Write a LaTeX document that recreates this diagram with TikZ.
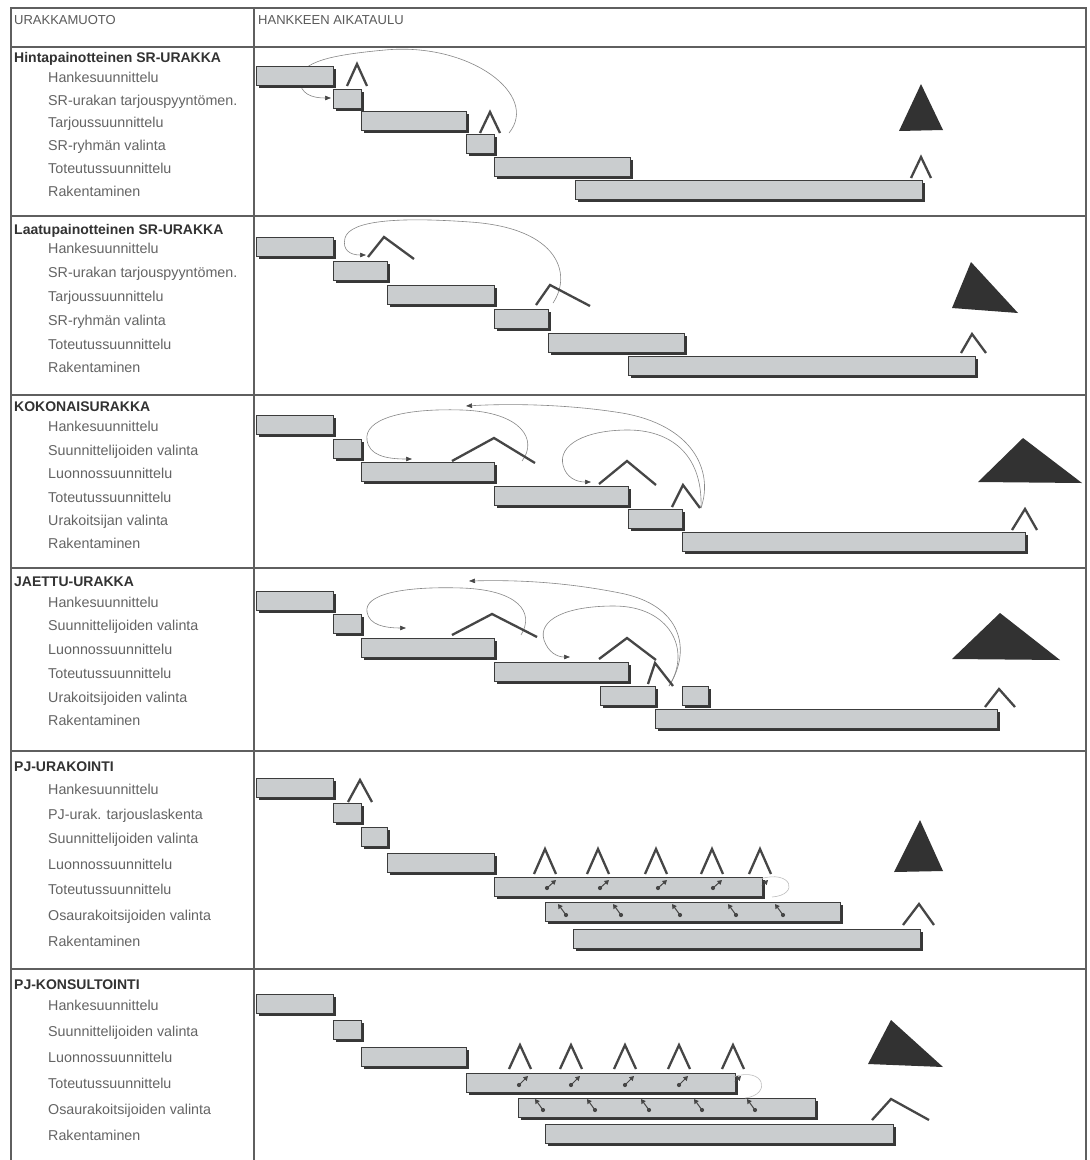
\documentclass[tikz,border=0pt]{standalone}
\usepackage{fontspec}
\setmainfont{Liberation Sans}
\usetikzlibrary{arrows.meta}

\definecolor{barfill}{RGB}{202,205,207}
\definecolor{barline}{RGB}{60,60,60}
\definecolor{barshade}{RGB}{55,55,55}
\definecolor{txtgray}{RGB}{100,100,100}
\definecolor{ttlgray}{RGB}{50,50,50}
\definecolor{hdrgray}{RGB}{90,90,90}
\definecolor{rulegray}{RGB}{95,95,95}
\definecolor{markgray}{RGB}{70,70,70}
\definecolor{trifill}{RGB}{50,50,50}
\definecolor{arcgray}{RGB}{135,135,135}
\definecolor{faintgray}{RGB}{190,190,190}

\tikzset{
  rule/.style={draw=rulegray, line width=1.1pt},
  txtbase/.style={anchor=west, inner sep=0pt, text height=10pt, text depth=2.8pt},
  hdr/.style={txtbase, text=hdrgray, font=\fontsize{13}{15}\selectfont},
  ttl/.style={txtbase, text=ttlgray, font=\fontsize{14}{16}\selectfont\bfseries},
  lbl/.style={txtbase, text=txtgray, font=\fontsize{14.3}{16}\selectfont},
  gbar/.style={draw=barline, line width=0.7pt, fill=barfill, minimum height=19.5pt,
               inner sep=0pt, outer sep=0pt},
  gshadow/.style={fill=barshade},
  peak/.style={draw=markgray, line width=2.3pt, line join=miter},
  flag/.style={fill=trifill},
  backarc/.style={draw=arcgray, line width=0.6pt,
                  -{Triangle[length=6pt,width=4.5pt,color=markgray]}},
  faintarc/.style={draw=faintgray, line width=0.6pt},
  tick/.style={draw=markgray, line width=1pt,
               -{Triangle[length=4.5pt,width=5pt]}},
  tickdot/.style={fill=markgray},
}

% Gantt bar: name, start x, end x, centre y (with a drop shadow)
\newcommand\gbar[4]{%
  \fill[gshadow] (#2+2.6,#4-7.2) rectangle (#3+2.6,#4+12.4);
  \node[gbar, minimum width={#3pt-#2pt}, anchor=west] (#1) at (#2,#4) {};}
% small dot-and-arrow mark inside a bar: from (#1,#2) to (#3,#4)
\newcommand\tickmark[4]{%
  \fill[tickdot] (#1,#2) circle (2.1);
  \draw[tick] (#1,#2) -- (#3,#4);}

\begin{document}
\begin{tikzpicture}[x=1pt,y=-1pt]
\useasboundingbox (0,0) rectangle (1090,1160);
\fill[white] (0,0) rectangle (1090,1160);

% ---------- table frame ----------
\draw[rule] (11,1160) -- (11,8) -- (1086,8) -- (1086,1160);
\draw[rule] (254,8) -- (254,1160);
\foreach \yy in {47,216,395,568,751,969}
  {\draw[rule] (11,\yy) -- (1086,\yy);}

\node[hdr] (hform) at (14,21) {URAKKAMUOTO};
\node[hdr] (hsched) at (258,21) {HANKKEEN AIKATAULU};

% ================= Hintapainotteinen SR-URAKKA =================
\node[ttl] (t1) at (14,59) {Hintapainotteinen SR-URAKKA};
\node[lbl] (l11) at (48,79)  {Hankesuunnittelu};
\node[lbl] (l12) at (48,102) {SR-urakan tarjouspyyntömen.};
\node[lbl] (l13) at (48,124) {Tarjoussuunnittelu};
\node[lbl] (l14) at (48,147) {SR-ryhmän valinta};
\node[lbl] (l15) at (48,170) {Toteutussuunnittelu};
\node[lbl] (l16) at (48,193) {Rakentaminen};

\coordinate (a1s) at (509,133);
\coordinate (a1e) at (331,98);
\draw[backarc] (a1s) .. controls (540,95) and (470,42) .. (385,50)
               .. controls (330,55) and (300,62) .. (300,80)
               .. controls (300,94) and (312,98) .. (a1e);

\gbar{b11}{256}{333}{76}
\gbar{b12}{333}{361}{99}
\gbar{b13}{361}{466}{121}
\gbar{b14}{466}{494}{144}
\gbar{b15}{494}{630}{167}
\gbar{b16}{575}{922}{190}

\draw[peak] (347,86) -- (357,64) -- (367,86);
\draw[peak] (480,133) -- (490,112) -- (500,133);
\draw[peak] (911,178) -- (921,157) -- (931,178);
\fill[flag] (921,84) -- (943,130) -- (899,131) -- cycle;

% ================= Laatupainotteinen SR-URAKKA =================
\node[ttl] (t2) at (14,231) {Laatupainotteinen SR-URAKKA};
\node[lbl] (l21) at (48,250) {Hankesuunnittelu};
\node[lbl] (l22) at (48,274) {SR-urakan tarjouspyyntömen.};
\node[lbl] (l23) at (48,298) {Tarjoussuunnittelu};
\node[lbl] (l24) at (48,322) {SR-ryhmän valinta};
\node[lbl] (l25) at (48,346) {Toteutussuunnittelu};
\node[lbl] (l26) at (48,369) {Rakentaminen};

\coordinate (a2s) at (553,303);
\coordinate (a2e) at (366,255);
\draw[backarc] (a2s) .. controls (572,275) and (560,228) .. (470,222)
               .. controls (400,217) and (350,220) .. (345,238)
               .. controls (342,250) and (350,255) .. (a2e);

\gbar{b21}{256}{333}{247}
\gbar{b22}{333}{387}{271}
\gbar{b23}{387}{494}{295}
\gbar{b24}{494}{548}{319}
\gbar{b25}{548}{684}{343}
\gbar{b26}{628}{975}{366}

\draw[peak] (368,257) -- (384,237) -- (414,259);
\draw[peak] (536,305) -- (550,285) -- (590,306);
\draw[peak] (961,353) -- (972,334) -- (986,353);
\fill[flag] (971,262) -- (1018,313) -- (952,308) -- cycle;

% ================= KOKONAISURAKKA =================
\node[ttl] (t3) at (14,408) {KOKONAISURAKKA};
\node[lbl] (l31) at (48,428) {Hankesuunnittelu};
\node[lbl] (l32) at (48,452) {Suunnittelijoiden valinta};
\node[lbl] (l33) at (48,475) {Luonnossuunnittelu};
\node[lbl] (l34) at (48,499) {Toteutussuunnittelu};
\node[lbl] (l35) at (48,522) {Urakoitsijan valinta};
\node[lbl] (l36) at (48,545) {Rakentaminen};

\coordinate (a3s) at (522,461);
\coordinate (a3e) at (412,459);
\coordinate (a3t) at (701,508);
\coordinate (a3u) at (466,406);
\coordinate (a3v) at (591,482);
\draw[backarc] (a3s) .. controls (538,440) and (522,412) .. (462,410)
               .. controls (400,408) and (364,420) .. (367,440)
               .. controls (369,455) and (385,459) .. (a3e);
\draw[backarc] (a3t) .. controls (714,470) and (692,425) .. (622,413)
               .. controls (560,403) and (500,404) .. (a3u);
\draw[backarc] (a3t) .. controls (703,452) and (668,430) .. (628,430)
               .. controls (585,430) and (558,445) .. (563,465)
               .. controls (566,478) and (577,482) .. (a3v);

\gbar{b31}{256}{333}{425}
\gbar{b32}{333}{361}{449}
\gbar{b33}{361}{494}{472}
\gbar{b34}{494}{628}{496}
\gbar{b35}{628}{682}{519}
\gbar{b36}{682}{1025}{542}

\draw[peak] (452,461) -- (494,438) -- (535,463);
\draw[peak] (599,484) -- (627,461) -- (656,485);
\draw[peak] (672,507) -- (683,485) -- (700,508);
\draw[peak] (1012,530) -- (1025,509) -- (1037,530);
\fill[flag] (1023,438) -- (1082,483) -- (978,482) -- cycle;

% ================= JAETTU-URAKKA =================
\node[ttl] (t4) at (14,583) {JAETTU-URAKKA};
\node[lbl] (l41) at (48,604) {Hankesuunnittelu};
\node[lbl] (l42) at (48,627) {Suunnittelijoiden valinta};
\node[lbl] (l43) at (48,651) {Luonnossuunnittelu};
\node[lbl] (l44) at (48,675) {Toteutussuunnittelu};
\node[lbl] (l45) at (48,699) {Urakoitsijoiden valinta};
\node[lbl] (l46) at (48,722) {Rakentaminen};

\coordinate (a4s) at (521,635);
\coordinate (a4e) at (406,628);
\coordinate (a4t) at (669,686);
\coordinate (a4u) at (469,581);
\coordinate (a4v) at (570,657);
\draw[backarc] (a4s) .. controls (535,612) and (518,590) .. (462,588)
               .. controls (400,586) and (364,595) .. (367,612)
               .. controls (369,625) and (385,628) .. (a4e);
\draw[backarc] (a4t) .. controls (692,650) and (682,605) .. (620,593)
               .. controls (560,581) and (510,580) .. (a4u);
\draw[backarc] (a4t) .. controls (692,650) and (670,606) .. (614,606)
               .. controls (565,606) and (538,620) .. (544,640)
               .. controls (548,652) and (557,657) .. (a4v);

\gbar{b41}{256}{333}{601}
\gbar{b42}{333}{361}{624}
\gbar{b43}{361}{494}{648}
\gbar{b44}{494}{628}{672}
\gbar{b45}{600}{655}{696}
\gbar{b4x}{682}{708}{696}
\gbar{b46}{655}{997}{719}

\draw[peak] (452,635) -- (492,614) -- (537,637);
\draw[peak] (599,659) -- (627,638) -- (656,660);
\draw[peak] (648,684) -- (655,663) -- (673,686);
\draw[peak] (985,707) -- (999,689) -- (1015,707);
\fill[flag] (1000,613) -- (1060,660) -- (952,659) -- cycle;

% ================= PJ-URAKOINTI =================
\node[ttl] (t5) at (14,768) {PJ-URAKOINTI};
\node[lbl] (l51) at (48,791) {Hankesuunnittelu};
\node[lbl] (l52) at (48,816) {PJ-urak. tarjouslaskenta};
\node[lbl] (l53) at (48,840) {Suunnittelijoiden valinta};
\node[lbl] (l54) at (48,866) {Luonnossuunnittelu};
\node[lbl] (l55) at (48,891) {Toteutussuunnittelu};
\node[lbl] (l56) at (48,917) {Osaurakoitsijoiden valinta};
\node[lbl] (l57) at (48,943) {Rakentaminen};

\gbar{b51}{256}{333}{788}
\gbar{b52}{333}{361}{813}
\gbar{b53}{361}{387}{837}
\gbar{b54}{387}{494}{863}
\gbar{b55}{494}{762}{887}
\gbar{b56}{545}{840}{912}
\gbar{b57}{573}{920}{939}

\draw[faintarc] (760,879) .. controls (792,869) and (800,895) .. (772,897);

\draw[peak] (348,802) -- (360,780) -- (372,802);
\foreach \xx in {545,598,656,712,760}
  {\draw[peak] (\xx-11,874) -- (\xx,849) -- (\xx+11,874);}
\draw[peak] (903,925) -- (919,904) -- (934,925);
\fill[flag] (920,820) -- (943,871) -- (894,872) -- cycle;

\foreach \xx in {547,600,658,713}
  {\tickmark{\xx}{888}{\xx+9}{880}}
\draw[tick] (762,886) -- (768,880);
\foreach \xx in {558,613,672,728,775}
  {\tickmark{\xx+8}{915}{\xx}{904}}

% ================= PJ-KONSULTOINTI =================
\node[ttl] (t6) at (14,986) {PJ-KONSULTOINTI};
\node[lbl] (l61) at (48,1007) {Hankesuunnittelu};
\node[lbl] (l62) at (48,1033) {Suunnittelijoiden valinta};
\node[lbl] (l63) at (48,1059) {Luonnossuunnittelu};
\node[lbl] (l64) at (48,1085) {Toteutussuunnittelu};
\node[lbl] (l65) at (48,1111) {Osaurakoitsijoiden valinta};
\node[lbl] (l66) at (48,1137) {Rakentaminen};

\gbar{b61}{256}{333}{1004}
\gbar{b62}{333}{361}{1030}
\gbar{b63}{361}{466}{1057}
\gbar{b64}{466}{735}{1083}
\gbar{b65}{518}{815}{1108}
\gbar{b66}{545}{893}{1134}

\draw[faintarc] (733,1077) .. controls (765,1066) and (772,1095) .. (745,1098);

\foreach \xx in {520,571,625,679,733}
  {\draw[peak] (\xx-11,1069) -- (\xx,1045) -- (\xx+11,1069);}
\draw[peak] (872,1120) -- (891,1099) -- (929,1120);
\fill[flag] (891,1020) -- (943,1067) -- (868,1064) -- cycle;

\foreach \xx in {519,571,625,679}
  {\tickmark{\xx}{1085}{\xx+9}{1076}}
\draw[tick] (735,1082) -- (741,1076);
\foreach \xx in {535,587,641,694,747}
  {\tickmark{\xx+8}{1110}{\xx}{1099}}

\end{tikzpicture}
\end{document}
